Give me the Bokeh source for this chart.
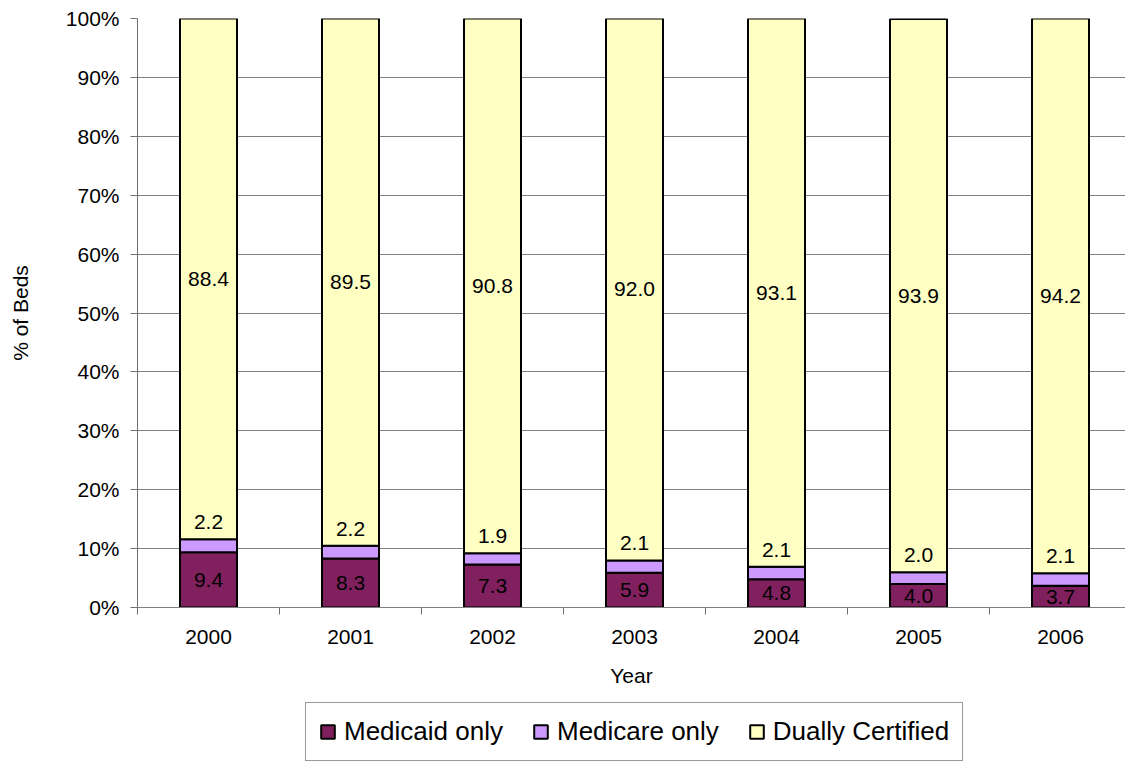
from bokeh.plotting import figure
from bokeh.layouts import column
from bokeh.models import ColumnDataSource, FixedTicker, Range1d, Legend, LegendItem
from bokeh.core.properties import value
from bokeh.embed import file_html
from bokeh.resources import INLINE

years = ["2000", "2001", "2002", "2003", "2004", "2005", "2006"]
medicaid = [9.4, 8.3, 7.3, 5.9, 4.8, 4.0, 3.7]
medicare = [2.2, 2.2, 1.9, 2.1, 2.1, 2.0, 2.1]
dually = [88.4, 89.5, 90.8, 92.0, 93.1, 93.9, 94.2]
y_ticks = list(range(0, 101, 10))
series_names = ["Medicaid only", "Medicare only", "Dually Certified"]

FONT = "Liberation Sans"
C_MCD = "#80205F"
C_MCR = "#CC99FF"
C_DUAL = "#FFFFC4"
COLORS = [C_MCD, C_MCR, C_DUAL]

x = list(range(len(years)))
t1 = medicaid
t2 = [a + b for a, b in zip(medicaid, medicare)]
t3 = [a + b for a, b in zip(t2, dually)]
src = ColumnDataSource(dict(
    x=x, b0=[0] * len(x), t1=t1, t2=t2, t3=t3,
    mid1=[v / 2 for v in t1],
    mid3=[(a + b) / 2 for a, b in zip(t2, t3)],
    lab1=[f"{v:.1f}" for v in medicaid],
    lab2=[f"{v:.1f}" for v in medicare],
    lab3=[f"{v:.1f}" for v in dually],
))
stack = [("b0", "t1"), ("t1", "t2"), ("t2", "t3")]

SLOT = 142.0
FRAME_W = 988
LEFT = 137
FIG_W = LEFT + FRAME_W
MAIN_H = 701
XR = (-0.5, -0.5 + FRAME_W / SLOT)
p = figure(width=FIG_W, height=MAIN_H,
           x_range=Range1d(*XR), y_range=Range1d(0, 100),
           output_backend="svg", toolbar_location=None,
           min_border_left=LEFT, min_border_right=0, min_border_top=18,
           min_border_bottom=MAIN_H - 18 - 589)
p.outline_line_color = None
p.background_fill_color = "white"

BW = 57 / SLOT
for (b, t), col in zip(stack, COLORS):
    p.vbar(x="x", width=BW, bottom=b, top=t, source=src,
           fill_color=col, line_color="black", line_width=2)

common = dict(source=src, text_align="center", text_baseline="middle",
              text_font=value(FONT), text_font_size="21px", text_color="black")
p.text(x="x", y="mid1", text="lab1", **common)
p.text(x="x", y="t2", text="lab2", y_offset=-17, **common)
p.text(x="x", y="mid3", text="lab3", **common)

# y axis
ya = p.yaxis[0]
ya.ticker = FixedTicker(ticks=y_ticks)
ya.major_label_overrides = {v: f"{v}%" for v in y_ticks}
ya.major_tick_out = 7
ya.major_tick_in = 0
ya.minor_tick_line_color = None
ya.major_label_standoff = 11
ya.axis_line_color = "#707070"
ya.major_tick_line_color = "#707070"
ya.major_label_text_font = FONT
ya.major_label_text_font_size = "21px"
ya.major_label_text_color = "black"
ya.axis_label = "% of Beds"
ya.axis_label_text_font = FONT
ya.axis_label_text_font_size = "21px"
ya.axis_label_text_font_style = "normal"
ya.axis_label_text_color = "black"
ya.axis_label_standoff = 31

# x axis
xa = p.xaxis[0]
xa.ticker = FixedTicker(ticks=x, minor_ticks=[i - 0.5 for i in range(len(x) + 1)])
xa.major_label_overrides = {i: years[i] for i in x}
xa.major_tick_out = 0
xa.major_tick_in = 0
xa.minor_tick_out = 7
xa.minor_tick_in = 0
xa.minor_tick_line_color = "#707070"
xa.axis_line_color = "#808080"
xa.major_label_standoff = 15
xa.major_label_text_font = FONT
xa.major_label_text_font_size = "21px"
xa.major_label_text_color = "black"
xa.axis_label = "Year"
xa.axis_label_text_font = FONT
xa.axis_label_text_font_size = "21px"
xa.axis_label_text_font_style = "normal"
xa.axis_label_text_color = "black"
xa.axis_label_standoff = 17

p.xgrid.visible = False
p.ygrid.ticker = FixedTicker(ticks=y_ticks)
p.ygrid.grid_line_color = "#808080"
p.ygrid.grid_line_width = 1

# legend figure (swatch renderers share the data but are hidden; only their legend swatches show)
LEG_H = 62
pl = figure(width=FIG_W, height=LEG_H, x_range=Range1d(*XR), y_range=Range1d(0, 100),
            output_backend="svg", toolbar_location=None,
            x_axis_type=None, y_axis_type=None,
            min_border_left=LEFT, min_border_right=0, min_border_top=0, min_border_bottom=0)
pl.outline_line_color = None
items = []
for name, (b, t), col in zip(series_names, stack, COLORS):
    r = pl.vbar(x="x", width=BW, bottom=b, top=t, source=src,
                fill_color=col, line_color="black", line_width=2, visible=False)
    items.append(LegendItem(label=name, renderers=[r]))
legend = Legend(items=items, location=(168, 2), orientation="horizontal",
                label_text_font=FONT, label_text_font_size="26px",
                label_text_color="black",
                glyph_width=17, glyph_height=17, label_standoff=8,
                spacing=29, padding=13, margin=0,
                border_line_color="#333333", border_line_width=1,
                background_fill_color="white", background_fill_alpha=1,
                inactive_fill_alpha=0)
pl.add_layout(legend)

layout = column(p, pl, spacing=0)
open("out.html", "w").write(file_html(layout, INLINE))
